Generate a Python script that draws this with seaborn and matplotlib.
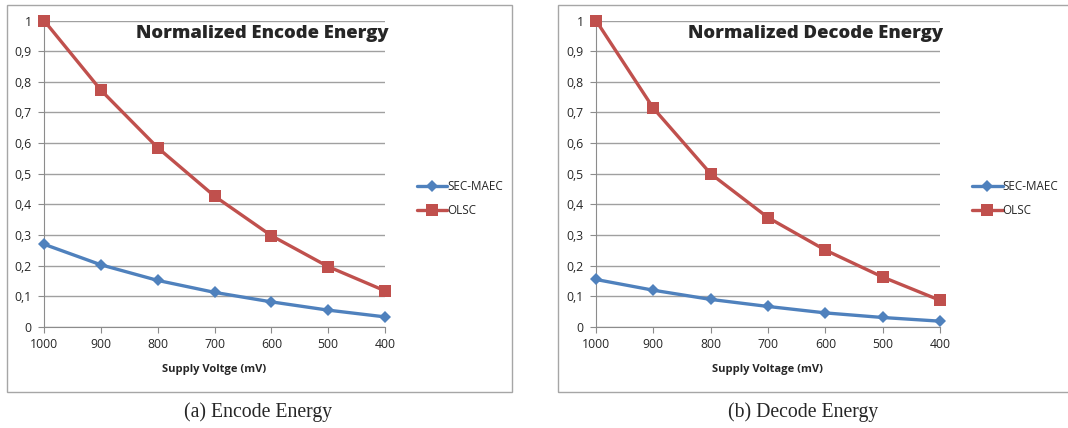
import matplotlib
matplotlib.use("Agg")
import matplotlib.pyplot as plt
import seaborn as sns
import pandas as pd
from matplotlib.patches import Rectangle

# data
voltage = [1000, 900, 800, 700, 600, 500, 400]
enc_sec = [0.27, 0.203, 0.152, 0.113, 0.082, 0.055, 0.033]
enc_olsc = [1.0, 0.773, 0.585, 0.427, 0.298, 0.197, 0.118]
dec_sec = [0.155, 0.12, 0.09, 0.067, 0.046, 0.031, 0.019]
dec_olsc = [1.0, 0.714, 0.5, 0.357, 0.251, 0.163, 0.087]
yticks = [0, 0.1, 0.2, 0.3, 0.4, 0.5, 0.6, 0.7, 0.8, 0.9, 1.0]
ylabels = ["0", "0,1", "0,2", "0,3", "0,4", "0,5", "0,6", "0,7", "0,8", "0,9", "1"]

blue = "#4F81BD"
red = "#C0504D"

sns.set_style("white")
plt.rcParams['font.family'] = ['Open Sans', 'DejaVu Sans']

fig = plt.figure(figsize=(10.68, 4.28), dpi=100)
W, H = 1068.0, 428.0

def px_axes(x0, x1, ytop, ybot):
    return fig.add_axes([x0 / W, 1 - ybot / H, (x1 - x0) / W, (ybot - ytop) / H])

panels = [
    (44, 385, 7, 512, enc_sec, enc_olsc, "Normalized Encode Energy", "Supply Voltge (mV)", "(a) Encode Energy", 258),
    (596, 940, 558, 1075, dec_sec, dec_olsc, "Normalized Decode Energy", "Supply Voltage (mV)", "(b) Decode Energy", 803),
]

for x0, x1, fx0, fx1, sec, olsc, title, xlab, cap, capx in panels:
    # outer chart frame
    fig.patches.append(Rectangle((fx0 / W, 1 - 392 / H), (fx1 - fx0) / W, 387 / H,
                                 transform=fig.transFigure, fill=False,
                                 edgecolor="#a6a6a6", linewidth=1.0))
    ax = px_axes(x0, x1, 20.5, 327)
    df = pd.DataFrame({"v": voltage * 2, "e": sec + olsc,
                       "s": ["SEC-MAEC"] * 7 + ["OLSC"] * 7})
    sns.lineplot(data=df, x="v", y="e", hue="s", style="s",
                 palette={"SEC-MAEC": blue, "OLSC": red},
                 markers={"SEC-MAEC": "D", "OLSC": "s"}, dashes=False,
                 linewidth=2.4, markersize=7, markeredgewidth=0,
                 ax=ax, clip_on=False, zorder=3)
    for ln in ax.lines:
        if ln.get_marker() == "D":
            ln.set_markersize(6)
        elif ln.get_marker() == "s":
            ln.set_markersize(8.5)
    ax.set_xlim(1000, 400)
    ax.set_ylim(0, 1)
    ax.set_xticks(voltage)
    ax.set_xticklabels([str(v) for v in voltage], fontsize=8.8)
    ax.set_yticks(yticks)
    ax.set_yticklabels(ylabels, fontsize=8.8)
    ax.yaxis.grid(True, color="#a0a0a0", linewidth=1.0)
    ax.set_axisbelow(True)
    for s in ["top", "right"]:
        ax.spines[s].set_visible(False)
    ax.spines["left"].set_color("#8c8c8c")
    ax.spines["bottom"].set_color("#8c8c8c")
    ax.tick_params(axis="x", bottom=True, length=4, color="#8c8c8c", pad=4)
    ax.tick_params(axis="y", left=True, length=4, color="#8c8c8c", pad=5)
    ax.set_xlabel(xlab, fontsize=8, fontweight="bold", labelpad=9)
    ax.set_ylabel("")
    ax.text(1.01, 0.957, title, transform=ax.transAxes, ha="right", va="center",
            fontsize=13.3, fontweight="heavy", family="Open Sans")
    handles, labels = ax.get_legend_handles_labels()
    ax.legend(handles, labels, loc="center left", bbox_to_anchor=(1.08, 0.42),
              frameon=False, fontsize=8.4, handlelength=2.6, handletextpad=0.0,
              labelspacing=0.95, borderaxespad=0)
    fig.text(capx / W, 1 - 412 / H, cap, ha="center", va="center",
             fontsize=14.2, family="Liberation Serif")

fig.savefig("out.png", dpi=100)
